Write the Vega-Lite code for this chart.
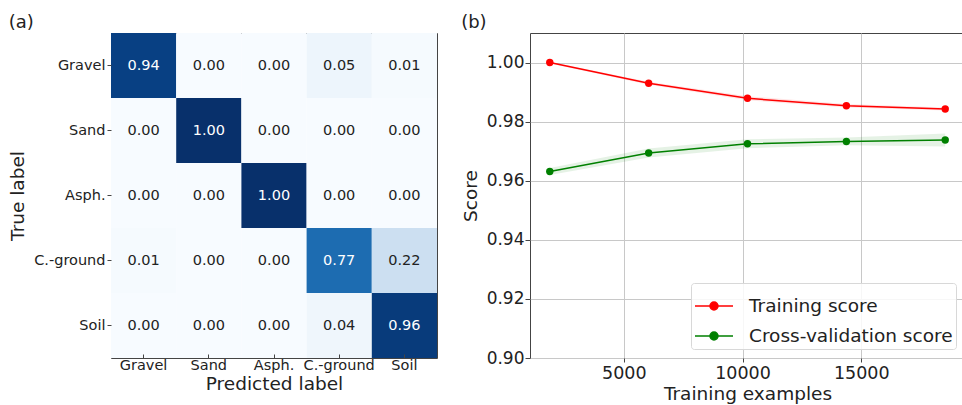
{
  "$schema": "https://vega.github.io/schema/vega-lite/v6.json",
  "padding": {"left": 8, "top": 13, "right": 0, "bottom": 0},
  "spacing": 22,
  "config": {
    "font": "DejaVu Sans",
    "view": {"stroke": "#444", "strokeWidth": 1},
    "axis": {"domain": false, "labelColor": "#222", "titleColor": "#222", "titleFontWeight": "normal", "tickColor": "#444"},
    "title": {"fontWeight": "normal", "fontSize": 18, "anchor": "start", "frame": "bounds", "color": "#222", "offset": 1}
  },
  "datasets": {
    "cm": [
      {"t": "Gravel", "p": "Gravel", "v": 0.94}, {"t": "Gravel", "p": "Sand", "v": 0.0}, {"t": "Gravel", "p": "Asph.", "v": 0.0}, {"t": "Gravel", "p": "C.-ground", "v": 0.05}, {"t": "Gravel", "p": "Soil", "v": 0.01},
      {"t": "Sand", "p": "Gravel", "v": 0.0}, {"t": "Sand", "p": "Sand", "v": 1.0}, {"t": "Sand", "p": "Asph.", "v": 0.0}, {"t": "Sand", "p": "C.-ground", "v": 0.0}, {"t": "Sand", "p": "Soil", "v": 0.0},
      {"t": "Asph.", "p": "Gravel", "v": 0.0}, {"t": "Asph.", "p": "Sand", "v": 0.0}, {"t": "Asph.", "p": "Asph.", "v": 1.0}, {"t": "Asph.", "p": "C.-ground", "v": 0.0}, {"t": "Asph.", "p": "Soil", "v": 0.0},
      {"t": "C.-ground", "p": "Gravel", "v": 0.01}, {"t": "C.-ground", "p": "Sand", "v": 0.0}, {"t": "C.-ground", "p": "Asph.", "v": 0.0}, {"t": "C.-ground", "p": "C.-ground", "v": 0.77}, {"t": "C.-ground", "p": "Soil", "v": 0.22},
      {"t": "Soil", "p": "Gravel", "v": 0.0}, {"t": "Soil", "p": "Sand", "v": 0.0}, {"t": "Soil", "p": "Asph.", "v": 0.0}, {"t": "Soil", "p": "C.-ground", "v": 0.04}, {"t": "Soil", "p": "Soil", "v": 0.96}
    ],
    "lc": [
      {"s": "Training score", "n": 1883, "m": 1.0, "lo": 0.9997, "hi": 1.0003},
      {"s": "Training score", "n": 6047, "m": 0.993, "lo": 0.9925, "hi": 0.9935},
      {"s": "Training score", "n": 10210, "m": 0.9879, "lo": 0.9872, "hi": 0.9886},
      {"s": "Training score", "n": 14374, "m": 0.9854, "lo": 0.9848, "hi": 0.986},
      {"s": "Training score", "n": 18537, "m": 0.9843, "lo": 0.9838, "hi": 0.9848},
      {"s": "Cross-validation score", "n": 1883, "m": 0.9631, "lo": 0.9619, "hi": 0.9643},
      {"s": "Cross-validation score", "n": 6047, "m": 0.9694, "lo": 0.9679, "hi": 0.9709},
      {"s": "Cross-validation score", "n": 10210, "m": 0.9725, "lo": 0.971, "hi": 0.974},
      {"s": "Cross-validation score", "n": 14374, "m": 0.9733, "lo": 0.972, "hi": 0.9746},
      {"s": "Cross-validation score", "n": 18537, "m": 0.9738, "lo": 0.9716, "hi": 0.976}
    ]
  },
  "hconcat": [
    {
      "title": {"text": "(a)"},
      "width": 326,
      "height": 325,
      "data": {"name": "cm"},
      "encoding": {
        "x": {"field": "p", "type": "nominal", "sort": ["Gravel", "Sand", "Asph.", "C.-ground", "Soil"], "scale": {"paddingInner": 0, "paddingOuter": 0},
              "axis": {"title": "Predicted label", "titleFontSize": 18.5, "labelFontSize": 14.5, "labelAngle": 0, "tickSize": -4, "labelPadding": 4, "titlePadding": 3}},
        "y": {"field": "t", "type": "nominal", "sort": ["Gravel", "Sand", "Asph.", "C.-ground", "Soil"], "scale": {"paddingInner": 0, "paddingOuter": 0},
              "axis": {"title": "True label", "titleFontSize": 18.5, "labelFontSize": 14.5, "tickSize": 4, "labelPadding": 2, "titlePadding": 6}}
      },
      "layer": [
        {
          "mark": {"type": "rect"},
          "encoding": {
            "color": {"field": "v", "type": "quantitative", "legend": null,
                      "scale": {"domain": [0, 0.125, 0.25, 0.375, 0.5, 0.625, 0.75, 0.875, 1], "range": ["#f7fbff", "#deebf7", "#c6dbef", "#9ecae1", "#6baed6", "#4292c6", "#2171b5", "#08519c", "#08306b"], "interpolate": "rgb"}}
          }
        },
        {
          "mark": {"type": "text", "fontSize": 14.5},
          "encoding": {
            "text": {"field": "v", "type": "quantitative", "format": ".2f"},
            "color": {"condition": {"test": "datum.v > 0.5", "value": "white"}, "value": "#222"}
          }
        }
      ]
    },
    {
      "title": {"text": "(b)"},
      "width": 435,
      "height": 325,
      "data": {"name": "lc"},
      "encoding": {
        "x": {"field": "n", "type": "quantitative", "scale": {"domain": [1050, 19370], "nice": false, "zero": false},
              "axis": {"title": "Training examples", "titleFontSize": 18.5, "labelFontSize": 17.5, "values": [5000, 10000, 15000], "format": "d", "tickSize": 4, "labelPadding": 2, "titlePadding": 3, "gridColor": "#c8c8c8"}},
        "color": {"field": "s", "type": "nominal", "scale": {"domain": ["Training score", "Cross-validation score"], "range": ["#ff0000", "#008000"]},
                  "legend": {"title": null, "orient": "bottom-right", "offset": 9, "labelFontSize": 18.5, "labelColor": "#222", "labelLimit": 400,
                             "symbolType": "M-1,0L1,0M0.21,0A0.21,0.21,0,1,1,-0.21,0A0.21,0.21,0,1,1,0.21,0Z",
                             "symbolSize": 1444, "symbolStrokeWidth": 1.5, "symbolOpacity": 1, "labelOffset": 15, "rowPadding": -6,
                             "strokeColor": "#d8d8d8", "fillColor": "rgba(255,255,255,0.85)", "cornerRadius": 3, "padding": 3}}
      },
      "layer": [
        {
          "mark": {"type": "area", "opacity": 0.1},
          "encoding": {
            "y": {"field": "lo", "type": "quantitative"},
            "y2": {"field": "hi"}
          }
        },
        {
          "mark": {"type": "line", "strokeWidth": 1.5, "point": {"size": 55, "filled": true, "opacity": 1}},
          "encoding": {
            "y": {"field": "m", "type": "quantitative", "scale": {"domain": [0.9, 1.01], "nice": false, "zero": false},
                  "axis": {"title": "Score", "titleFontSize": 18.5, "labelFontSize": 17, "values": [0.9, 0.92, 0.94, 0.96, 0.98, 1.0], "format": ".2f", "tickSize": 5, "labelPadding": 1, "titlePadding": 6, "gridColor": "#c8c8c8"}}
          }
        }
      ]
    }
  ]
}
